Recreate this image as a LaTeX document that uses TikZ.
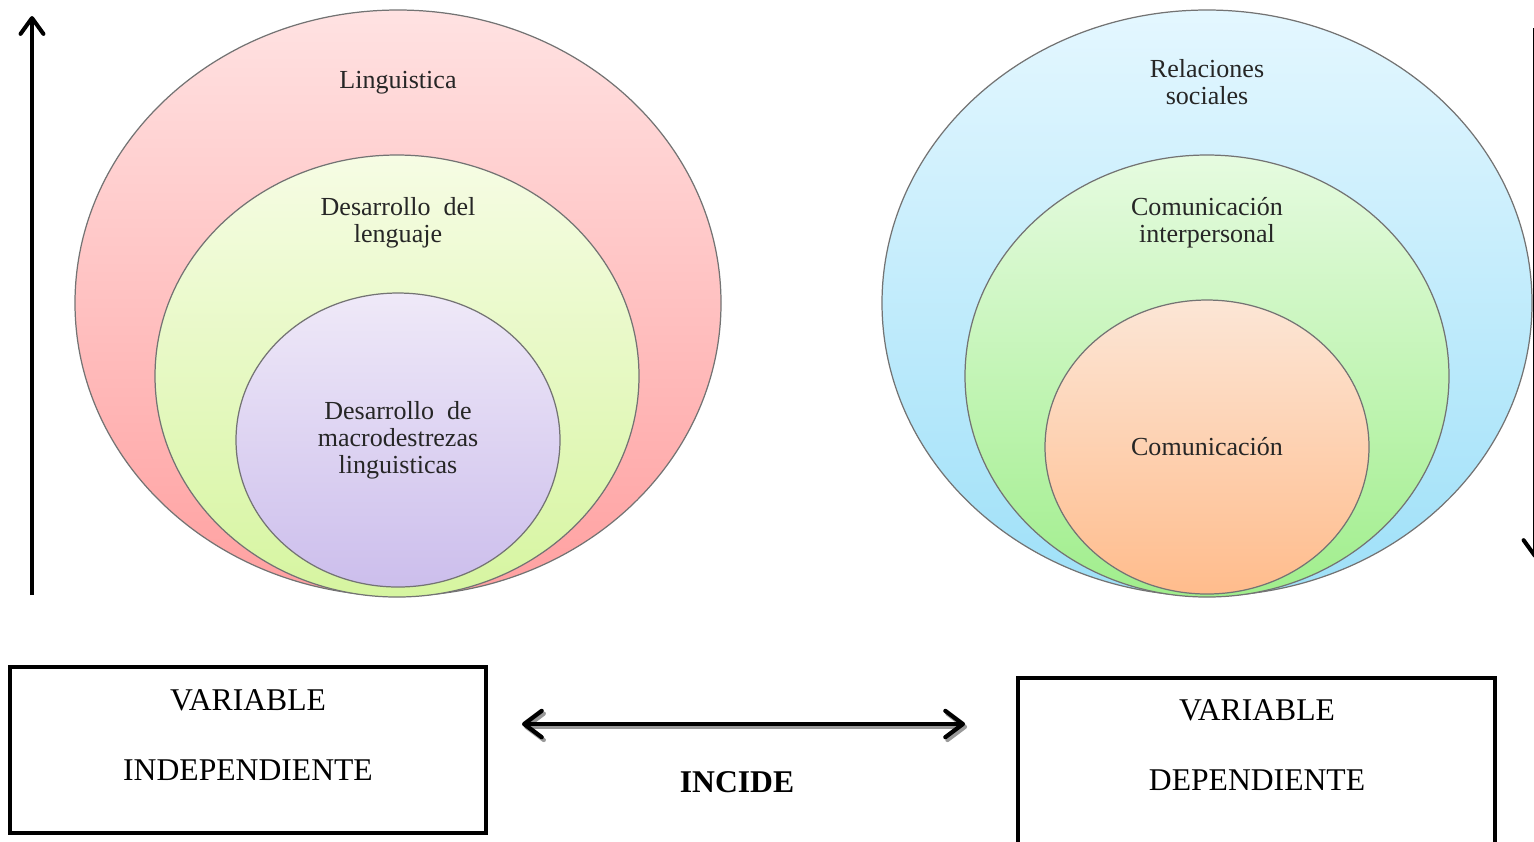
\documentclass[tikz,border=0pt]{standalone}
\usepackage{fontspec}
\setmainfont{Liberation Serif}
\usetikzlibrary{arrows.meta}

\definecolor{redtop}{RGB}{255,226,226}
\definecolor{redbot}{RGB}{255,160,160}
\definecolor{limetop}{RGB}{246,252,228}
\definecolor{limebot}{RGB}{214,245,160}
\definecolor{lilactop}{RGB}{239,233,248}
\definecolor{lilacbot}{RGB}{204,190,236}
\definecolor{skytop}{RGB}{228,247,255}
\definecolor{skybot}{RGB}{158,224,248}
\definecolor{greentop}{RGB}{230,251,224}
\definecolor{greenbot}{RGB}{160,238,140}
\definecolor{peachtop}{RGB}{252,230,214}
\definecolor{peachbot}{RGB}{255,188,140}

\tikzset{
  ring/.style={draw=black!55, line width=0.35pt},
  ringtext/.style={font=\fontsize{7.4}{7.7}\selectfont, align=center, text=black!85},
  varbox/.style={draw, line width=1.1pt, minimum width=4.76cm, minimum height=1.66cm},
  vartext/.style={font=\fontsize{9}{10}\selectfont},
  axisarrow/.style={line width=1.15pt, -{Straight Barb[length=4.5pt,width=6.5pt,round]}},
  linkarrow/.style={line width=1.2pt, {Straight Barb[length=5pt,width=7.5pt,round]}-{Straight Barb[length=5pt,width=7.5pt,round]}}
}

\begin{document}
\begin{tikzpicture}[x=0.01cm, y=-0.01cm]
  \useasboundingbox (0,0) rectangle (1534,841);

  % variable independiente
  \draw[ring, top color=redtop, bottom color=redbot] (398,303) ellipse (323 and 293);
  \draw[ring, top color=limetop, bottom color=limebot] (397,376) ellipse (242 and 221);
  \draw[ring, top color=lilactop, bottom color=lilacbot] (398,440) ellipse (162 and 147);

  \node[ringtext] (ling) at (398,83) {Linguistica};
  \node[ringtext] (lenguaje) at (398,223) {Desarrollo \ del\\lenguaje};
  \node[ringtext] (macro) at (398,440) {Desarrollo \ de\\macrodestrezas\\linguisticas};

  % variable dependiente
  \draw[ring, top color=skytop, bottom color=skybot] (1207,303) ellipse (325 and 293);
  \draw[ring, top color=greentop, bottom color=greenbot] (1207,376) ellipse (242 and 221);
  \draw[ring, top color=peachtop, bottom color=peachbot] (1207,447) ellipse (162 and 147);

  \node[ringtext] (rel) at (1207,82) {Relaciones\\sociales};
  \node[ringtext] (inter) at (1207,223) {Comunicación\\interpersonal};
  \node[ringtext] (com) at (1207,447) {Comunicación};

  % ejes
  \coordinate (upA) at (32,595);
  \coordinate (upB) at (32,16);
  \draw[axisarrow] (upA) -- (upB);
  \coordinate (downA) at (1535,28);
  \coordinate (downB) at (1535,558);
  \draw[axisarrow] (downA) -- (downB);

  % cajas
  \node[varbox] (indep) at (248,750) {};
  \node[varbox] (dep) at (1256.5,761) {};
  \node[vartext] (indepA) at (248,700) {VARIABLE};
  \node[vartext] (indepB) at (248,770) {INDEPENDIENTE};
  \node[vartext] (depA) at (1257,710) {VARIABLE};
  \node[vartext] (depB) at (1257,780) {DEPENDIENTE};

  \coordinate (incL) at (522,724);
  \coordinate (incR) at (965,724);
  \draw[linkarrow, draw=black!40, transform canvas={xshift=0.6pt, yshift=-0.8pt}] (incL) -- (incR);
  \draw[linkarrow] (incL) -- (incR);
  \node[vartext, font=\fontsize{9}{10}\selectfont\bfseries] (incide) at (737,782) {INCIDE};
\end{tikzpicture}
\end{document}
